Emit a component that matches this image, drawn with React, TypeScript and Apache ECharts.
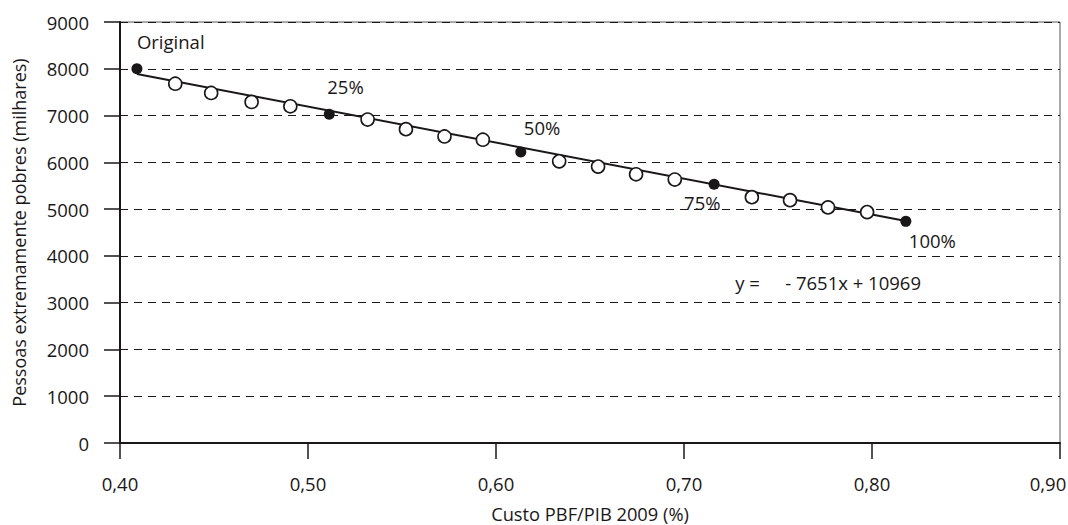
import React, { useEffect, useRef } from "react";
import * as echarts from "echarts";

// Key scenarios (filled markers)
const keyX = [0.409, 0.5113, 0.6132, 0.716, 0.818];
const keyY = [8000, 7028, 6219, 5532, 4738];
const keyLabels = ["Original", "25%", "50%", "75%", "100%"];

// Intermediate scenarios (open markers)
const openX = [0.4294, 0.4485, 0.470, 0.4906, 0.5317, 0.5521, 0.5726, 0.593, 0.6336, 0.6543, 0.6745, 0.6951, 0.7361, 0.7564, 0.7766, 0.7974];
const openY = [7681, 7483, 7291, 7198, 6915, 6709, 6553, 6483, 6021, 5909, 5745, 5632, 5255, 5191, 5036, 4936];

// Trend line end points
const trendX = [0.409, 0.818];
const trendY = [7890, 4745];

// Equation text anchors
const eqX = [0.7272, 0.7538];
const eqY = [3430, 3430];
const eqTexts = ["y =", "- 7651x + 10969"];

const FONT = "Open Sans";
const INK = "#1a1718";

export default function App() {
  const ref = useRef<HTMLDivElement>(null);
  useEffect(() => {
    if (!ref.current) return;
    const chart = echarts.init(ref.current, undefined, { renderer: "svg" });
    const KEY_SIZE = 11;
    const labelOffsets: number[][] = [[0, -27], [-2, -28], [3, -25], [-30, 18], [3, 19]];
    const txt = {
      show: true,
      align: "left",
      verticalAlign: "middle",
      fontSize: 18.5,
      color: INK,
      fontFamily: FONT,
      textBorderWidth: 0,
      opacity: 1,
    };
    chart.setOption({
      animation: false,
      backgroundColor: "#fff",
      textStyle: { fontFamily: FONT, color: INK },
      grid: {
        left: 120,
        right: 8,
        top: 22,
        bottom: 82,
        containLabel: false,
        outerBoundsMode: "none",
        show: true,
        borderColor: "#555",
        borderWidth: 1,
      },
      xAxis: {
        type: "value",
        min: 0.4,
        max: 0.9,
        interval: 0.1,
        name: "Custo PBF/PIB 2009 (%)",
        nameLocation: "middle",
        nameGap: 61,
        nameTextStyle: { fontSize: 18.3, color: INK, fontFamily: FONT },
        axisLine: { show: true, lineStyle: { color: INK, width: 2 } },
        axisTick: { show: true, inside: false, length: 16, lineStyle: { color: INK, width: 1.5 } },
        axisLabel: {
          margin: 31,
          fontSize: 18.5,
          color: INK,
          fontFamily: FONT,
          formatter: (v: number) => {
            const s = v.toFixed(2).replace(".", ",");
            return v > 0.89 ? "{last|" + s + "}" : s;
          },
          rich: {
            last: { fontSize: 18.5, color: INK, fontFamily: FONT, padding: [0, 24, 0, 0] },
          },
        },
        splitLine: { show: false },
      },
      yAxis: {
        type: "value",
        min: 0,
        max: 9000,
        interval: 1000,
        name: "Pessoas extremamente pobres (milhares)",
        nameLocation: "middle",
        nameGap: 92,
        nameRotate: 90,
        nameTextStyle: { fontSize: 18, color: INK, fontFamily: FONT },
        axisLine: { show: true, lineStyle: { color: INK, width: 2 } },
        axisTick: { show: true, inside: false, length: 16, lineStyle: { color: INK, width: 1.5 } },
        axisLabel: {
          margin: 31,
          fontSize: 18.5,
          color: INK,
          fontFamily: FONT,
          formatter: (v: number) => String(Math.round(v)),
        },
        splitLine: { show: true, lineStyle: { color: INK, width: 1, type: [8, 6] } },
      },
      series: [
        {
          type: "line",
          data: trendX.map((x, i) => [x, trendY[i]]),
          symbol: "none",
          lineStyle: { color: INK, width: 2 },
          z: 2,
        },
        {
          type: "scatter",
          data: openX.map((x, i) => [x, openY[i]]),
          symbol: "circle",
          symbolSize: 13,
          itemStyle: { color: "#fff", borderColor: INK, borderWidth: 1.6, opacity: 1 },
          z: 3,
        },
        {
          type: "scatter",
          data: keyX.map((x, i) => ({
            value: [x, keyY[i]],
            label: {
              ...txt,
              formatter: keyLabels[i],
              position: [KEY_SIZE / 2 + labelOffsets[i][0], KEY_SIZE / 2 + labelOffsets[i][1]],
            },
          })),
          symbol: "circle",
          symbolSize: KEY_SIZE,
          itemStyle: { color: INK, opacity: 1 },
          z: 4,
        },
        {
          type: "scatter",
          data: eqX.map((x, i) => ({
            value: [x, eqY[i]],
            label: { ...txt, formatter: eqTexts[i], position: [1, 1] },
          })),
          symbol: "circle",
          symbolSize: 2,
          itemStyle: { color: "rgba(0,0,0,0)", opacity: 1 },
          z: 4,
        },
      ],
    });
    return () => chart.dispose();
  }, []);
  return (
    <div
      ref={ref}
      style={{ position: "fixed", left: 0, top: 0, width: 1068, height: 525, background: "#fff" }}
    />
  );
}
